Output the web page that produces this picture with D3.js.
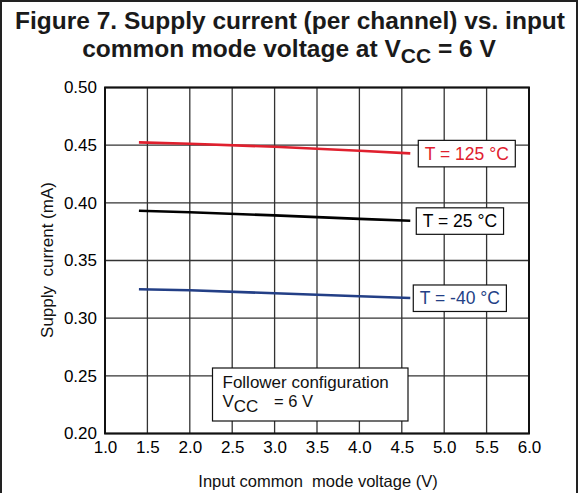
<!DOCTYPE html>
<html>
<head>
<meta charset="utf-8">
<script src="https://cdn.jsdelivr.net/npm/d3@7/dist/d3.min.js"></script>
<style>
  html, body { margin: 0; padding: 0; background: #fff; }
  svg { display: block; font-family: "Liberation Sans", Arial, sans-serif; }
</style>
</head>
<body>
<svg id="chart" width="579" height="493"></svg>
<script>
// Input common mode voltage (V) at which supply current was measured
const vin = [1.4, 2.0, 3.0, 4.0, 4.6];

// Supply current per channel (mA) for each temperature
const i125 = [0.4524, 0.4512, 0.4486, 0.4451, 0.4429];
const i25 = [0.3931, 0.3919, 0.3891, 0.3861, 0.3844];
const iM40 = [0.3251, 0.3242, 0.3216, 0.3190, 0.3175];

const seriesNames = ["T = 125 °C", "T = 25 °C", "T = -40 °C"];
const seriesColors = ["#e0202e", "#000000", "#233f86"];

const xTicks = [1.0, 1.5, 2.0, 2.5, 3.0, 3.5, 4.0, 4.5, 5.0, 5.5, 6.0];
const yTicks = [0.20, 0.25, 0.30, 0.35, 0.40, 0.45, 0.50];

const svg = d3.select("#chart");

// Outer frame
svg.append("rect")
  .attr("x", 1).attr("y", 1).attr("width", 576).attr("height", 500)
  .attr("fill", "#fff").attr("stroke", "#222").attr("stroke-width", 2);

// Title
const title = svg.append("text")
  .attr("text-anchor", "middle").attr("font-weight", "bold")
  .attr("font-size", 24.5).attr("fill", "#1a1a1a");
title.append("tspan").attr("x", 290).attr("y", 29)
  .text("Figure 7. Supply current (per channel) vs. input");
const t2 = title.append("tspan").attr("x", 289).attr("y", 57);
t2.text("common mode voltage at V");
title.append("tspan").attr("dy", 6).attr("font-size", 21).text("CC");
title.append("tspan").attr("dy", -6).text(" = 6 V");

const x = d3.scaleLinear().domain([1.0, 6.0]).range([105, 529]);
const y = d3.scaleLinear().domain([0.20, 0.50]).range([433.5, 87.5]);

// Grid
const grid = svg.append("g").attr("stroke", "#333").attr("stroke-width", 1.3);
grid.selectAll("line.v").data(xTicks).join("line")
  .attr("x1", d => x(d)).attr("x2", d => x(d))
  .attr("y1", y(0.50)).attr("y2", y(0.20));
grid.selectAll("line.h").data(yTicks).join("line")
  .attr("y1", d => y(d)).attr("y2", d => y(d))
  .attr("x1", x(1.0)).attr("x2", x(6.0));

// Plot border
svg.append("rect")
  .attr("x", x(1.0)).attr("y", y(0.50))
  .attr("width", x(6.0) - x(1.0)).attr("height", y(0.20) - y(0.50))
  .attr("fill", "none").attr("stroke", "#111").attr("stroke-width", 2);

// Axes (labels only, the grid provides the lines)
const xAxis = svg.append("g").attr("transform", `translate(0,${y(0.20)})`)
  .call(d3.axisBottom(x).tickValues(xTicks).tickFormat(d3.format(".1f")).tickSize(0).tickPadding(7.5));
const yAxis = svg.append("g").attr("transform", `translate(${x(1.0)},0)`)
  .call(d3.axisLeft(y).tickValues(yTicks).tickFormat(d3.format(".2f")).tickSize(0).tickPadding(8));
[xAxis, yAxis].forEach(a => {
  a.select(".domain").remove();
  a.selectAll("text").attr("font-size", 17).attr("fill", "#000")
    .attr("font-family", "Liberation Sans, Arial, sans-serif");
});

// Axis titles
svg.append("text")
  .attr("x", 318).attr("y", 487).attr("text-anchor", "middle")
  .attr("font-size", 16.5).attr("fill", "#111")
  .attr("xml:space", "preserve")
  .text("Input common  mode voltage (V)");
svg.append("text")
  .attr("transform", "translate(53,260) rotate(-90)")
  .attr("text-anchor", "middle").attr("font-size", 17).attr("fill", "#111")
  .attr("xml:space", "preserve")
  .text("Supply  current (mA)");

// Curves
const line = d3.line().x((d, i) => x(vin[i])).y(d => y(d));
const allSeries = [i125, i25, iM40];
svg.append("g").selectAll("path").data(allSeries).join("path")
  .attr("d", d => line(d))
  .attr("fill", "none")
  .attr("stroke", (d, i) => seriesColors[i])
  .attr("stroke-width", 2.6);

// Series labels in boxes beside the line ends
const labelOffsets = [8, 6, 3];
allSeries.forEach((s, i) => {
  const ex = x(vin[vin.length - 1]);
  const ey = y(s[s.length - 1]);
  const g = svg.append("g");
  const txt = g.append("text")
    .attr("font-size", 17.5).attr("fill", seriesColors[i])
    .text(seriesNames[i]);
  const w = txt.node().getComputedTextLength();
  const bx = ex + labelOffsets[i];
  const by = ey - 13;
  g.insert("rect", "text")
    .attr("x", bx).attr("y", by).attr("width", w + 13).attr("height", 26.5)
    .attr("fill", "#fff").attr("stroke", "#111").attr("stroke-width", 1.2);
  txt.attr("x", bx + 6.5).attr("y", by + 19.5);
});

// Test condition note
const note = svg.append("g");
note.append("rect")
  .attr("x", 212.5).attr("y", 368).attr("width", 195.5).attr("height", 53)
  .attr("fill", "#fff").attr("stroke", "#111").attr("stroke-width", 1.2);
note.append("text").attr("x", 222.5).attr("y", 387.5)
  .attr("font-size", 17).attr("fill", "#111").text("Follower configuration");
const n2 = note.append("text").attr("x", 222.5).attr("y", 407)
  .attr("font-size", 17).attr("fill", "#111");
n2.append("tspan").text("V");
n2.append("tspan").attr("dy", 5).text("CC");
n2.append("tspan").attr("x", 274).attr("dy", -5).attr("font-size", 16.5).text("= 6 V");
</script>
</body>
</html>
